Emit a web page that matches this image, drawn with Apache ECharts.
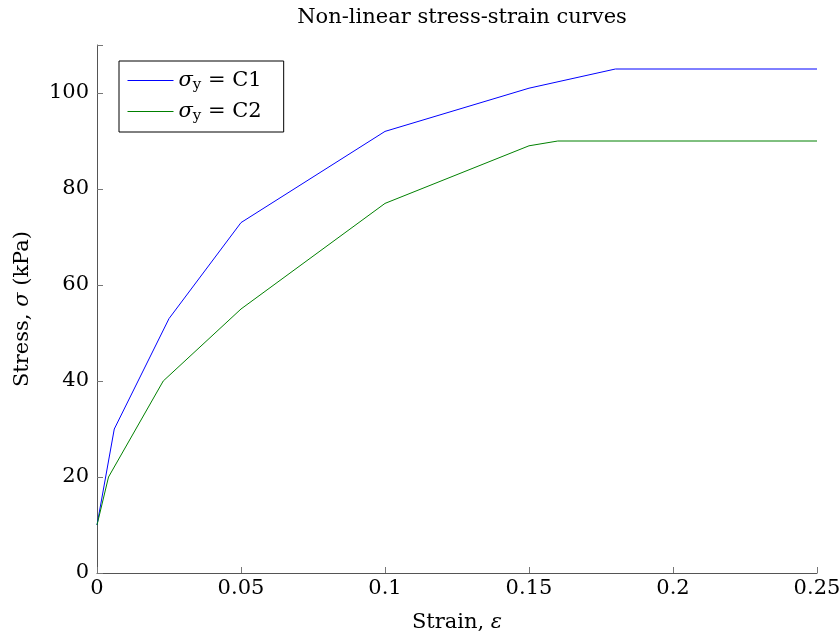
<!DOCTYPE html>
<html>
<head>
<meta charset="utf-8">
<script src="https://cdn.jsdelivr.net/npm/echarts@6/dist/echarts.min.js"></script>
<style>html,body{margin:0;padding:0;background:#fff;}#c{width:839px;height:641px;}</style>
</head>
<body>
<div id="c"></div>
<script>
const strainC1 = [0, 0.006, 0.025, 0.05, 0.1, 0.15, 0.18, 0.25];
const stressC1 = [10, 30, 53, 73, 92, 101, 105, 105];
const strainC2 = [0, 0.004, 0.023, 0.05, 0.1, 0.15, 0.16, 0.25];
const stressC2 = [10, 20, 40, 55, 77, 89, 90, 90];
const seriesNames = ['C1', 'C2'];
const xTicks = [0, 0.05, 0.1, 0.15, 0.2, 0.25];
const yTicks = [0, 20, 40, 60, 80, 100];

const FONT = 'DejaVu Serif';
const FS = 21;
const chart = echarts.init(document.getElementById('c'));
const pair = (xs, ys) => xs.map((x, i) => [x, ys[i]]);
chart.setOption({
  animation: false,
  title: {
    text: 'Non-linear stress-strain curves',
    left: 457, top: 2, textAlign: 'center',
    textStyle: { fontFamily: FONT, fontSize: FS, fontWeight: 'normal', color: '#000' }
  },
  grid: { left: 97, right: 22, top: 45, bottom: 68, containLabel: false, outerBoundsMode: 'none' },
  legend: {
    left: 119, top: 61, orient: 'vertical',
    data: seriesNames,
    itemWidth: 46, itemHeight: 14, itemGap: 8,
    itemStyle: { opacity: 0 },
    lineStyle: { width: 1 },
    borderColor: '#000', borderWidth: 1, padding: [9, 22, 8, 8],
    formatter: n => '{a|σ}{b|y}{c| = ' + n + '}',
    textStyle: {
      fontFamily: FONT, fontSize: FS, color: '#000',
      rich: {
        a: { fontFamily: FONT, fontSize: FS, fontStyle: 'italic', color: '#000' },
        b: { fontFamily: FONT, fontSize: 15, color: '#000', padding: [10, 0, 0, 0] },
        c: { fontFamily: FONT, fontSize: FS, color: '#000' }
      }
    }
  },
  xAxis: {
    type: 'value', min: 0, max: 0.25, interval: 0.05,
    name: 'Strain, {i|ε}', nameLocation: 'middle', nameGap: 39,
    nameTextStyle: { fontFamily: FONT, fontSize: FS, color: '#000',
      rich: { i: { fontFamily: FONT, fontSize: FS, fontStyle: 'italic', color: '#000' } } },
    axisLine: { show: true, lineStyle: { color: '#555', width: 1 } },
    axisTick: { show: true, inside: true, length: 6, lineStyle: { color: '#777' } },
    axisLabel: { fontFamily: FONT, fontSize: FS, color: '#000', margin: 5,
      formatter: v => String(+v.toFixed(4)) },
    splitLine: { show: false }
  },
  yAxis: {
    type: 'value', min: 0, max: 110, interval: 20,
    name: 'Stress, {i|σ} (kPa)', nameLocation: 'middle', nameGap: 64, nameRotate: 90,
    nameTextStyle: { fontFamily: FONT, fontSize: FS, color: '#000',
      rich: { i: { fontFamily: FONT, fontSize: FS, fontStyle: 'italic', color: '#000' } } },
    axisLine: { show: true, lineStyle: { color: '#555', width: 1 } },
    axisTick: { show: true, inside: true, length: 6, lineStyle: { color: '#777' } },
    axisLabel: { fontFamily: FONT, fontSize: FS, color: '#000', margin: 8,
      formatter: v => (yTicks.indexOf(v) >= 0 ? String(v) : '') },
    splitLine: { show: false }
  },
  series: [
    { name: seriesNames[0], type: 'line', data: pair(strainC1, stressC1), symbol: 'none',
      lineStyle: { color: '#0000ff', width: 1 }, itemStyle: { color: '#0000ff' } },
    { name: seriesNames[1], type: 'line', data: pair(strainC2, stressC2), symbol: 'none',
      lineStyle: { color: '#008000', width: 1 }, itemStyle: { color: '#008000' } }
  ]
});
</script>
</body>
</html>
